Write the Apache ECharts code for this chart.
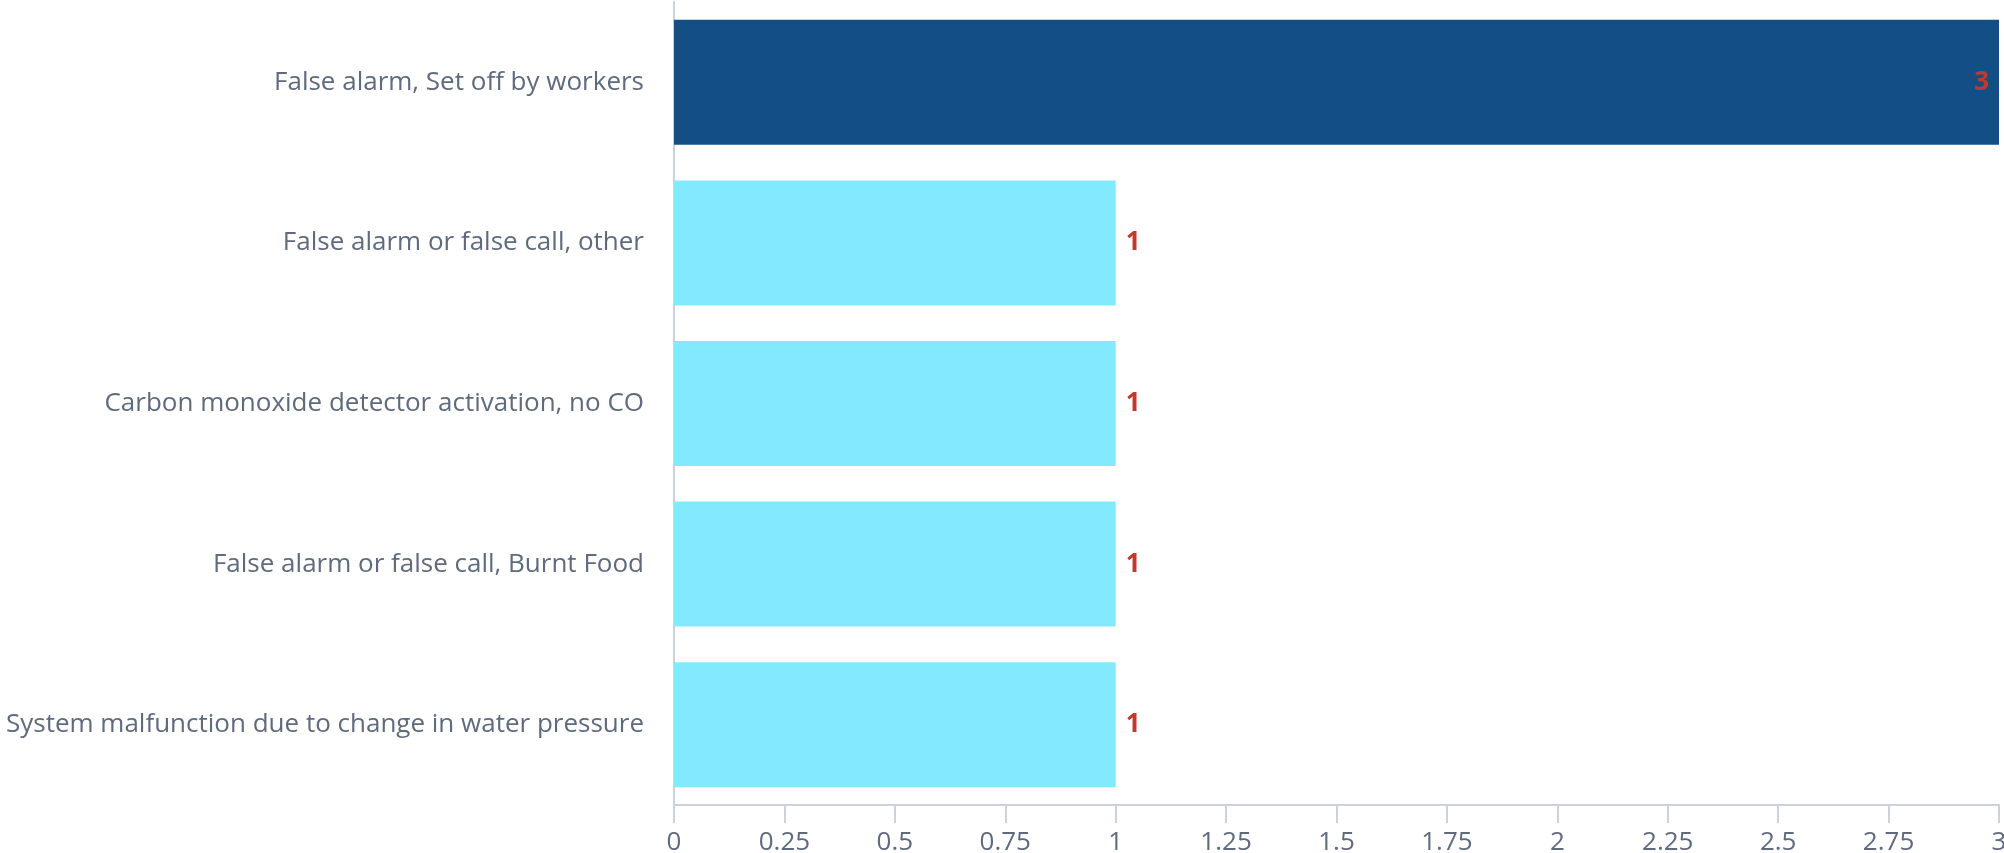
<!DOCTYPE html>
<html>
<head>
<meta charset="utf-8">
<script src="https://cdn.jsdelivr.net/npm/echarts@6/dist/echarts.min.js"></script>
<style>
  html, body { margin: 0; padding: 0; background: #fff; }
  #chart { width: 2004px; height: 853px; }
</style>
</head>
<body>
<div id="chart"></div>
<script>
// data
const categories = [
  'False alarm, Set off by workers',
  'False alarm or false call, other',
  'Carbon monoxide detector activation, no CO',
  'False alarm or false call, Burnt Food',
  'System malfunction due to change in water pressure'
]
const counts = [3, 1, 1, 1, 1]
const barColors = ['#134e87', '#82e9ff', '#82e9ff', '#82e9ff', '#82e9ff']
const xTicks = [0, 0.25, 0.5, 0.75, 1, 1.25, 1.5, 1.75, 2, 2.25, 2.5, 2.75, 3]

const textColor = '#5f6b7d'
const axisColor = '#ccd2dc'

const chart = echarts.init(document.getElementById('chart'))
const option = {
  animation: false,
  textStyle: { fontFamily: '"Open Sans", sans-serif' },
  grid: {
    left: 674,
    right: 5,
    top: 2,
    bottom: 48,
    outerBoundsMode: 'none'
  },
  xAxis: {
    type: 'value',
    min: xTicks[0],
    max: xTicks[xTicks.length - 1],
    interval: 0.25,
    splitLine: { show: false },
    axisLine: { show: true, lineStyle: { color: axisColor, width: 2 } },
    axisTick: { show: true, length: 18, lineStyle: { color: axisColor, width: 2 } },
    axisLabel: {
      color: textColor,
      fontSize: 26,
      margin: 25,
      showMinLabel: true,
      showMaxLabel: true
    }
  },
  yAxis: {
    type: 'category',
    inverse: true,
    data: categories,
    axisLine: { show: true, lineStyle: { color: axisColor, width: 2 } },
    axisTick: { show: false },
    axisLabel: {
      color: textColor,
      fontSize: 26,
      margin: 30
    }
  },
  series: [
    {
      type: 'bar',
      barWidth: 125,
      data: counts.map((v, i) => ({
        value: v,
        itemStyle: { color: barColors[i] },
        label: {
          position: v === xTicks[xTicks.length - 1] ? 'insideRight' : 'right',
          distance: 10
        }
      })),
      label: {
        show: true,
        color: '#c0392b',
        fontWeight: 'bold',
        fontSize: 26
      }
    }
  ]
}
chart.setOption(option)
</script>
</body>
</html>
